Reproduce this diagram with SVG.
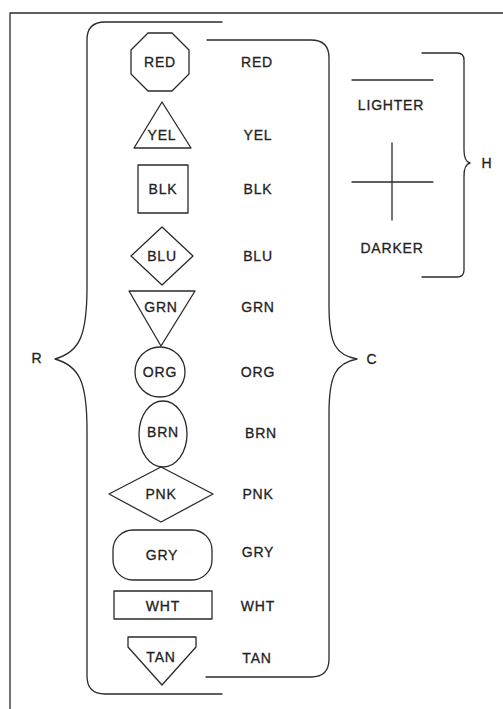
<svg xmlns="http://www.w3.org/2000/svg" width="503" height="709" viewBox="0 0 503 709">
<style>
.s{fill:none;stroke:#2a2a2a;stroke-width:1.3;stroke-linejoin:round;stroke-linecap:round}
.t{font-family:"Liberation Sans",Arial,sans-serif;font-size:14px;fill:#222;stroke:#222;stroke-width:0.3px;text-anchor:middle;letter-spacing:0.8px}
</style>
<rect width="503" height="709" fill="#fff"/>
<g id="frame">
<path class="s" d="M10 709 V13 H503"/>
</g>
<g id="connectors">
<path class="s" d="M222 22 H105 Q87 22 87 40 V287 C87 335 80 352 55 359 C80 366 87 383 87 430 V676 Q87 694 105 694 H222"/>
<path class="s" d="M207 40 H311 Q329 40 329 58 V305 C329 345 336 355 357 359 C336 363 329 375 329 413 V659 Q329 677 311 677 H206"/>
<path class="s" d="M422 53 H457 Q464 53 464 60 V150 C464 158 466 162 470 163 C466 164 464 168 464 176 V270 Q464 277 457 277 H422"/>
</g>
<g id="n-red"><polygon class="s" points="148,33 172,33 189,50 189,74 172,91 148,91 131,74 131,50"/><text class="t" x="160" y="67">RED</text></g>
<g id="n-yel"><polygon class="s" points="162,102 191,148 134,148"/><text class="t" x="162" y="140">YEL</text></g>
<g id="n-blk"><rect class="s" x="138" y="165" width="50" height="48"/><text class="t" x="163" y="194">BLK</text></g>
<g id="n-blu"><polygon class="s" points="162,227 193,256 162,285 131,256"/><text class="t" x="162" y="261">BLU</text></g>
<g id="n-grn"><polygon class="s" points="129,291 195,291 161,346"/><text class="t" x="161" y="312">GRN</text></g>
<g id="n-org"><circle class="s" cx="160" cy="372" r="25"/><text class="t" x="160" y="377">ORG</text></g>
<g id="n-brn"><ellipse class="s" cx="163" cy="434" rx="24" ry="33"/><text class="t" x="163" y="437">BRN</text></g>
<g id="n-pnk"><polygon class="s" points="161,467 213,494 161,522 109,494"/><text class="t" x="161" y="499">PNK</text></g>
<g id="n-gry"><rect class="s" x="113" y="530" width="99" height="50" rx="20"/><text class="t" x="162" y="560">GRY</text></g>
<g id="n-wht"><rect class="s" x="114" y="591" width="98" height="28"/><text class="t" x="163" y="611">WHT</text></g>
<g id="n-tan"><polygon class="s" points="128,637 196,637 196,647 162,685 128,647"/><text class="t" x="161" y="662">TAN</text></g>
<g id="names">
<text class="t" x="257" y="67">RED</text>
<text class="t" x="258" y="140">YEL</text>
<text class="t" x="258" y="194">BLK</text>
<text class="t" x="258" y="261">BLU</text>
<text class="t" x="258" y="312">GRN</text>
<text class="t" x="258" y="377">ORG</text>
<text class="t" x="261" y="438">BRN</text>
<text class="t" x="258" y="499">PNK</text>
<text class="t" x="258" y="557">GRY</text>
<text class="t" x="258" y="611">WHT</text>
<text class="t" x="257" y="663">TAN</text>
</g>
<g id="legend">
<path class="s" d="M352 80 H433"/>
<text class="t" x="391" y="110">LIGHTER</text>
<path class="s" d="M352 182 H433 M392 143 V220"/>
<text class="t" x="392" y="253">DARKER</text>
</g>
<g id="labels">
<text class="t" x="37" y="363">R</text>
<text class="t" x="372" y="364">C</text>
<text class="t" x="487" y="168">H</text>
</g>
</svg>
